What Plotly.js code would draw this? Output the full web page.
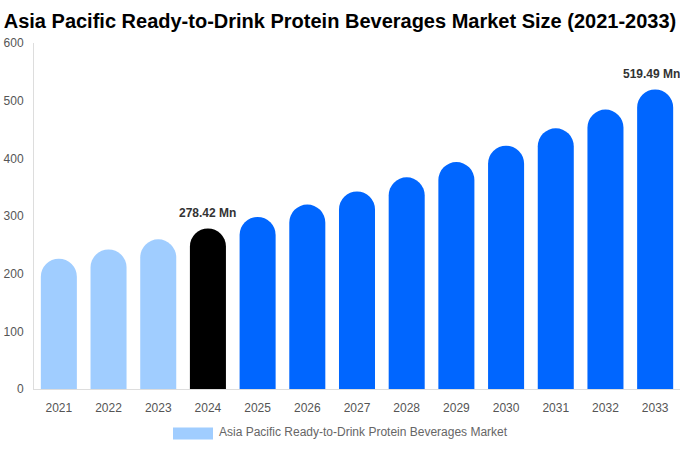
<!DOCTYPE html>
<html>
<head>
<meta charset="utf-8">
<script src="https://cdn.plot.ly/plotly-3.0.1.min.js"></script>
<style>
  html, body { margin: 0; padding: 0; background: #fff; }
  #chart { width: 680px; height: 450px; }
</style>
</head>
<body>
<div id="chart"></div>
<script>
// values (USD Mn)
const years = ['2021', '2022', '2023', '2024', '2025', '2026', '2027', '2028', '2029', '2030', '2031', '2032', '2033'];
const marketSize = [226.0, 242.0, 259.5, 278.42, 298.4, 319.8, 342.5, 367.0, 393.5, 422.0, 452.0, 484.5, 519.49];
const barColors = ['#a0cdff', '#a0cdff', '#a0cdff', '#000000', '#0066ff', '#0066ff', '#0066ff', '#0066ff', '#0066ff', '#0066ff', '#0066ff', '#0066ff', '#0066ff'];
const labelledYears = ['2024', '2033'];
const seriesName = 'Asia Pacific Ready-to-Drink Protein Beverages Market';

const fontFamily = '"Liberation Sans", Arial, sans-serif';

// plot box in pixels
const plotW = 646, plotH = 346.5, padLeft = 34, padTop = 43;
function px(x) { return (x - padLeft) / plotW; }
function py(y) { return (padTop + plotH - y) / plotH; }

// value labels above the highlighted bars (x given as category index)
const valueLabels = labelledYears.map(yr => {
    const i = years.indexOf(yr);
    const last = i === years.length - 1;
    return {
        x: i,
        y: marketSize[i],
        xref: 'x',
        yref: 'y',
        text: '<b>' + marketSize[i].toFixed(2) + ' Mn</b>',
        showarrow: false,
        yanchor: 'bottom',
        yshift: 6,
        xshift: last ? -4 : 0, // keep the last label inside the page
        font: { family: fontFamily, size: 12, color: '#333333' }
    };
});

// legend drawn by hand so the swatch matches the wide block in the reference
const legendLabel = {
    x: px(217), y: py(433),
    xref: 'paper', yref: 'paper',
    text: seriesName,
    showarrow: false,
    xanchor: 'left',
    yanchor: 'middle',
    font: { family: fontFamily, size: 12, color: '#666666' }
};

Plotly.newPlot('chart', [{
    type: 'bar',
    x: years,
    y: marketSize,
    name: seriesName,
    marker: { color: barColors, cornerradius: 18 },
    hoverinfo: 'x+y',
    showlegend: false
}], {
    width: 680,
    height: 450,
    margin: { l: padLeft, r: 0, t: padTop, b: 450 - padTop - plotH, pad: 0 },
    paper_bgcolor: '#ffffff',
    plot_bgcolor: '#ffffff',
    bargap: 0.275,
    title: {
        text: '<b>Asia Pacific Ready-to-Drink Protein Beverages Market Size (2021-2033)</b>',
        x: 0.5,
        xanchor: 'center',
        y: 0.953,
        yanchor: 'middle',
        font: { family: fontFamily, size: 20, color: '#000000' }
    },
    xaxis: {
        type: 'category',
        range: [-0.5, years.length - 0.5],
        showgrid: false,
        showline: true,
        linecolor: '#dddddd',
        linewidth: 1,
        ticks: '',
        ticklabelstandoff: 8,
        tickfont: { family: fontFamily, size: 12, color: '#555555' }
    },
    yaxis: {
        range: [0, 600],
        dtick: 100,
        showgrid: false,
        zeroline: false,
        showline: true,
        linecolor: '#dddddd',
        linewidth: 1,
        ticks: '',
        ticklabelstandoff: 7,
        tickfont: { family: fontFamily, size: 12, color: '#555555' }
    },
    shapes: [{
        type: 'rect',
        xref: 'paper', yref: 'paper',
        x0: px(173), x1: px(213),
        y0: py(440), y1: py(428),
        fillcolor: '#a0cdff',
        line: { width: 0 }
    }],
    annotations: valueLabels.concat([legendLabel])
}, { displayModeBar: false, staticPlot: true });
</script>
</body>
</html>
